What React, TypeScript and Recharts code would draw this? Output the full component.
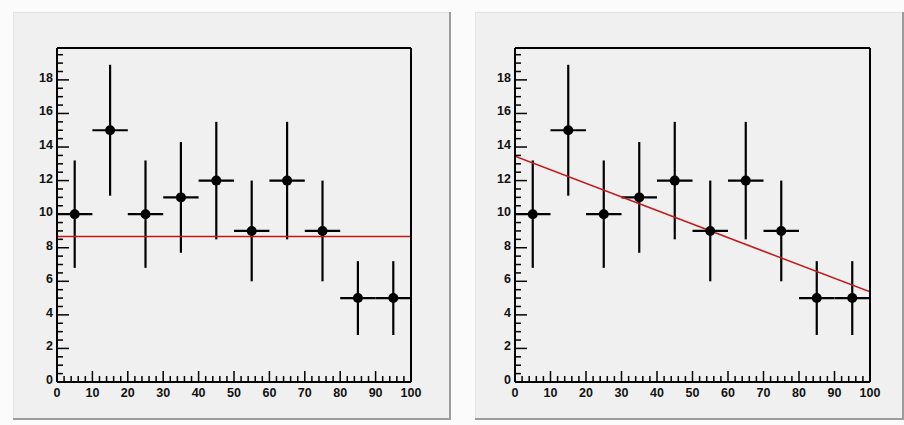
import React from 'react'
import { ComposedChart, ErrorBar, Line, Scatter, XAxis, YAxis } from 'recharts'

// histogram bins (centre, content, errors)
const binCenters = [5, 15, 25, 35, 45, 55, 65, 75, 85, 95]
const counts = [10, 15, 10, 11, 12, 9, 12, 9, 5, 5]
const countErrors = [3.2, 3.9, 3.2, 3.3, 3.5, 3.0, 3.5, 3.0, 2.2, 2.2]
const binHalfWidths = [5, 5, 5, 5, 5, 5, 5, 5, 5, 5]

// fit results, evaluated at the ends of the axis
const fitX = [0, 100]
const constFit = [8.67, 8.67]
const linearFit = [13.45, 5.37]

const xMajorLabels = [0, 10, 20, 30, 40, 50, 60, 70, 80, 90, 100]
const yMajorLabels = [0, 2, 4, 6, 8, 10, 12, 14, 16, 18]
const xTicks = Array.from({ length: 51 }, (_, i) => i * 2)
const yTicks = Array.from({ length: 40 }, (_, i) => i * 0.5)

const points = binCenters.map((x, i) => ({
  x,
  y: counts[i],
  ex: binHalfWidths[i],
  ey: countErrors[i],
}))

const labelStyle = {
  fontFamily: '"Liberation Sans", Arial, sans-serif',
  fontWeight: 700,
  fontSize: 12.5,
  fill: '#111',
}

const XTick = (props: any) => {
  const { x, y, payload } = props
  const major = xMajorLabels.includes(payload.value)
  return (
    <g>
      <line x1={x} x2={x} y1={y} y2={y - (major ? 11 : 6)} stroke="#000" strokeWidth={1.5} />
      {major && (
        <text x={x} y={y + 15} textAnchor="middle" {...labelStyle}>
          {payload.value}
        </text>
      )}
    </g>
  )
}

const YTick = (props: any) => {
  const { x, y, payload } = props
  const major = yMajorLabels.includes(payload.value)
  return (
    <g>
      <line x1={x} x2={x + (major ? 12 : 6)} y1={y} y2={y} stroke="#000" strokeWidth={1.5} />
      {major && (
        <text x={x - 4} y={y + 2} textAnchor="end" {...labelStyle}>
          {payload.value}
        </text>
      )}
    </g>
  )
}

const Marker = (props: any) => <circle cx={props.cx} cy={props.cy} r={5} fill="#000" />

type PanelProps = {
  fit: number[]
  width: number
  margin: { top: number; right: number; bottom: number; left: number }
}

const FitPanel: React.FC<PanelProps> = ({ fit, width, margin }) => {
  const fitData = fitX.map((x, i) => ({ x, fit: fit[i] }))
  return (
    <ComposedChart width={width} height={408} data={points} margin={margin}>
      <XAxis
        dataKey="x"
        type="number"
        domain={[0, 100]}
        ticks={xTicks}
        interval={0}
        height={1}
        tickSize={0}
        tickMargin={0}
        tick={<XTick />}
        tickLine={false}
        axisLine={{ stroke: '#000', strokeWidth: 2 }}
        allowDataOverflow
      />
      <XAxis
        xAxisId="top"
        dataKey="x"
        type="number"
        orientation="top"
        domain={[0, 100]}
        height={1}
        tick={false}
        tickLine={false}
        axisLine={{ stroke: '#000', strokeWidth: 2 }}
      />
      <YAxis
        type="number"
        domain={[0, 19.9]}
        ticks={yTicks}
        interval={0}
        width={1}
        tickSize={0}
        tickMargin={0}
        tick={<YTick />}
        tickLine={false}
        axisLine={{ stroke: '#000', strokeWidth: 2 }}
        allowDataOverflow
      />
      <YAxis
        yAxisId="right"
        orientation="right"
        type="number"
        domain={[0, 19.9]}
        width={1}
        tick={false}
        tickLine={false}
        axisLine={{ stroke: '#000', strokeWidth: 2 }}
      />
      <Scatter dataKey="y" shape={<Marker />} isAnimationActive={false}>
        <ErrorBar dataKey="ey" direction="y" width={0} stroke="#000" strokeWidth={2.2} isAnimationActive={false} />
        <ErrorBar dataKey="ex" direction="x" width={0} stroke="#000" strokeWidth={2.2} isAnimationActive={false} />
      </Scatter>
      <Line
        data={fitData}
        dataKey="fit"
        type="linear"
        stroke="#c41818"
        strokeWidth={1.5}
        dot={false}
        activeDot={false}
        isAnimationActive={false}
      />
    </ComposedChart>
  )
}

const panelStyle: React.CSSProperties = {
  position: 'absolute',
  top: 12,
  height: 408,
  background: '#f0f0f0',
  boxShadow: 'inset -2px -2px 0 #9c9c9c, inset 1px 1px 0 #e2e2e2',
}

export default function App() {
  return (
    <div style={{ position: 'absolute', left: 0, top: 0, width: 904, height: 425, background: '#fbfbfb', overflow: 'hidden' }}>
      <div style={{ ...panelStyle, left: 13, width: 438 }}>
        <FitPanel fit={constFit} width={438} margin={{ top: 35, right: 39, bottom: 37, left: 43 }} />
      </div>
      <div style={{ ...panelStyle, left: 475, width: 429 }}>
        <FitPanel fit={linearFit} width={429} margin={{ top: 35, right: 33, bottom: 37, left: 39 }} />
      </div>
    </div>
  )
}
